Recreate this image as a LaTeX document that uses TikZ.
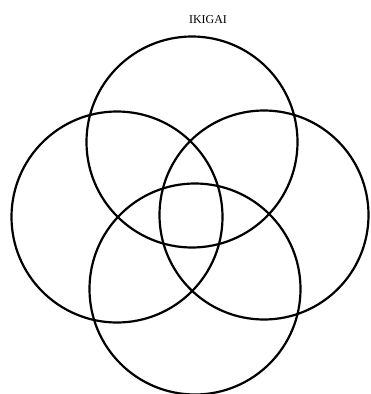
\documentclass[tikz,border=0pt]{standalone}
\usepackage{fontspec}
\setmainfont{Liberation Serif}
\begin{document}
\begin{tikzpicture}[x=1pt,y=-1pt,ring/.style={draw=black,line width=2.2pt}]
\useasboundingbox (0,0) rectangle (370,394);
\node[font=\fontsize{12}{14}\selectfont] (title) at (208,20) {IKIGAI};
\node[ring,circle,minimum size=211pt,inner sep=0pt] (top) at (192,142) {};
\node[ring,circle,minimum size=211pt,inner sep=0pt] (left) at (117,217) {};
\node[ring,circle,minimum size=209pt,inner sep=0pt] (right) at (264,215) {};
\node[ring,circle,minimum size=211pt,inner sep=0pt] (bottom) at (195,289) {};
\end{tikzpicture}
\end{document}
